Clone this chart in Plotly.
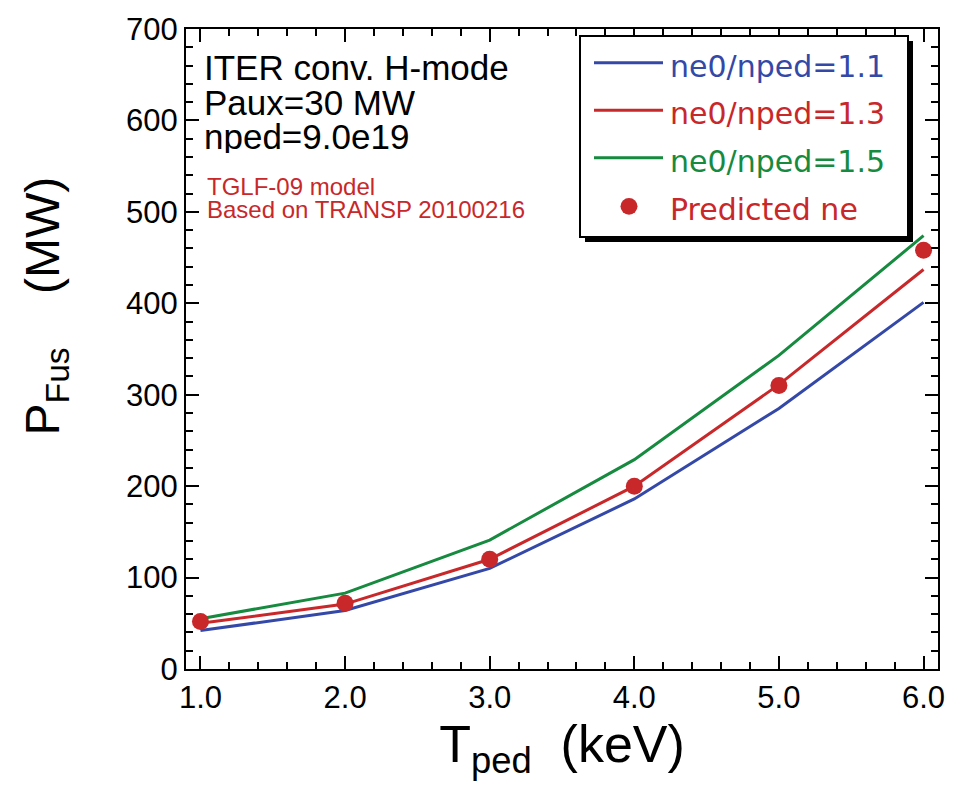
import plotly.graph_objects as go

# ---- data ----
t_ped = [1.0, 2.0, 3.0, 4.0, 5.0, 6.0]
p_fus_11 = [42, 64, 110, 186, 285, 401]
p_fus_13 = [50, 71, 120, 200, 311, 437]
p_fus_15 = [55, 83, 141, 229, 343, 474]
p_pred = [52, 72, 120, 200, 310, 458]

names = ["ne0/nped=1.1", "ne0/nped=1.3", "ne0/nped=1.5", "Predicted ne"]
x_ticks = [1.0, 2.0, 3.0, 4.0, 5.0, 6.0]
y_ticks = [0, 100, 200, 300, 400, 500, 600, 700]

BLUE = "rgb(52,72,168)"
RED = "rgb(200,40,42)"
GREEN = "rgb(22,138,62)"
series_colors = [BLUE, RED, GREEN]

fig = go.Figure()
for i, ys in enumerate([p_fus_11, p_fus_13, p_fus_15]):
    fig.add_trace(go.Scatter(
        x=t_ped, y=ys, mode="lines", line=dict(color=series_colors[i], width=3),
        name=names[i], showlegend=False))
fig.add_trace(go.Scatter(
    x=t_ped, y=p_pred, mode="markers", marker=dict(color=RED, size=17),
    name=names[3], showlegend=False))

L, R, T, B = 186, 25, 23, 132
W, H = 963, 801
pw, ph = W - L - R, H - T - B

def px_x(p):
    return (p - L) / pw

def px_y(p):
    return (H - B - p) / ph

axis_common = dict(
    showline=True, linewidth=2, linecolor="black", mirror="ticks",
    ticks="inside", ticklen=13, tickwidth=2, tickcolor="black",
    showgrid=False, zeroline=False,
    tickfont=dict(family="Liberation Sans", size=31, color="black"),
)

fig.update_xaxes(
    range=[0.9, 6.1], tickvals=x_ticks, ticktext=[f"{v:.1f}" for v in x_ticks],
    minor=dict(dtick=0.2, tick0=1.0, ticks="inside", ticklen=7, tickwidth=2, tickcolor="black"),
    title=dict(text="T<sub>ped</sub>&nbsp;&nbsp;(keV)", font=dict(family="Liberation Sans", size=52, color="black"), standoff=8),
    **axis_common)
fig.update_yaxes(
    range=[0, 700], tickvals=y_ticks,
    minor=dict(dtick=20, tick0=0, ticks="inside", ticklen=7, tickwidth=2, tickcolor="black"),
    **axis_common)

# y-axis title as rotated annotation
fig.add_annotation(x=px_x(46), y=px_y(303), xref="paper", yref="paper",
                   text="P<sub>Fus</sub>&nbsp;&nbsp;&nbsp;&nbsp;(MW)", textangle=-90,
                   showarrow=False, xanchor="center", yanchor="middle",
                   font=dict(family="Liberation Sans", size=48, color="black"))

# legend box with shadow
fig.add_shape(type="rect", xref="paper", yref="paper",
              x0=px_x(585), x1=px_x(913), y0=px_y(238), y1=px_y(35),
              fillcolor="black", line=dict(width=0), layer="above")
fig.add_shape(type="rect", xref="paper", yref="paper",
              x0=px_x(580), x1=px_x(908), y0=px_y(233), y1=px_y(30),
              fillcolor="white", line=dict(color="black", width=2), layer="above")

leg_rows = [57, 105, 153, 202]
for i in range(3):
    yy = leg_rows[i]
    fig.add_shape(type="line", xref="paper", yref="paper",
                  x0=px_x(594), x1=px_x(663), y0=px_y(yy), y1=px_y(yy),
                  line=dict(color=series_colors[i], width=3), layer="above")
fig.add_shape(type="circle", xref="paper", yref="paper",
              x0=px_x(629 - 8.5), x1=px_x(629 + 8.5),
              y0=px_y(leg_rows[3] + 8.5), y1=px_y(leg_rows[3] - 8.5),
              fillcolor=RED, line=dict(width=0), layer="above")
leg_text_colors = [BLUE, RED, GREEN, RED]
for i, nm in enumerate(names):
    fig.add_annotation(x=px_x(668), y=px_y(leg_rows[i] + 3), xref="paper", yref="paper",
                       text=nm, showarrow=False, xanchor="left", yanchor="middle",
                       height=40, valign="middle",
                       font=dict(family="DejaVu Sans", size=30, color=leg_text_colors[i]))

fig.update_layout(
    width=W, height=H,
    margin=dict(l=L, r=R, t=T, b=B),
    paper_bgcolor="white", plot_bgcolor="white",
    showlegend=False,
)

ann_black = ["ITER conv. H-mode", "Paux=30 MW", "nped=9.0e19"]
ann_black_y = [62, 97, 132]
for txt, yy in zip(ann_black, ann_black_y):
    fig.add_annotation(x=px_x(202), y=px_y(yy), xref="paper", yref="paper",
                       text=txt, showarrow=False, xanchor="left", yanchor="middle",
                       height=33, valign="middle",
                       font=dict(family="Liberation Sans", size=35, color="black"))
ann_red = ["TGLF-09 model", "Based on TRANSP 20100216"]
ann_red_y = [181, 205]
for txt, yy in zip(ann_red, ann_red_y):
    fig.add_annotation(x=px_x(205), y=px_y(yy), xref="paper", yref="paper",
                       text=txt, showarrow=False, xanchor="left", yanchor="middle",
                       height=22, valign="middle",
                       font=dict(family="Liberation Sans", size=24, color=RED))

fig.write_html("out.html")
